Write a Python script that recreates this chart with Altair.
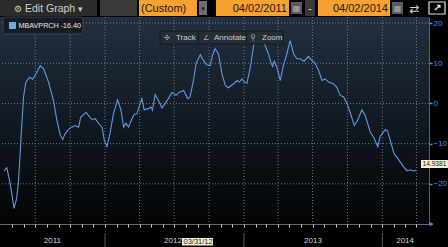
import altair as alt
import pandas as pd

# ---- data ----
start_date = "2011-04-02"
days_from_start = [8, 15, 22, 28, 34, 41, 46, 52, 59, 65, 75, 83, 92, 103, 112, 125, 138, 147, 156, 162,
                   169, 177, 186, 195, 204, 210, 224, 230, 239, 248, 257, 266, 272, 279, 287, 296, 307, 316, 323, 329,
                   336, 343, 351, 358, 365, 371, 377, 388, 395, 399, 406, 415, 424, 432, 441, 450, 461, 470, 481, 492,
                   498, 507, 514, 525, 533, 542, 551, 557, 564, 573, 582, 591, 599, 613, 622, 628, 635, 641, 648, 657,
                   665, 674, 681, 687, 696, 705, 711, 716, 720, 727, 736, 743, 752, 762, 771, 780, 788, 799, 810, 819,
                   828, 837, 846, 854, 863, 876, 885, 894, 903, 912, 920, 931, 940, 951, 960, 973, 982, 993, 999, 1013,
                   1019, 1030, 1036, 1048, 1061, 1070, 1079, 1087, 1094]
values = [-16.8, -16.0, -19.1, -22.4, -26.1, -23.6, -19.1, -9.2, 1.6, 5.3, 6.5, 6.0, 7.4, 9.4, 8.6, 5.3, 0.7, -4.2, -7.9, -9.0,
          -7.5, -6.5, -5.9, -5.5, -5.9, -3.4, -2.2, -3.0, -4.0, -3.8, -5.0, -5.9, -9.2, -10.7, -7.5, -2.6, 0.9, -1.7, -5.9, -4.9,
          -5.9, -4.2, -2.7, -2.6, -0.5, 1.2, -1.6, -1.3, -0.9, -1.7, 2.2, 0.7, -1.1, -0.1, 1.2, 2.7, 2.0, 2.8, 3.2, 1.2,
          1.6, 5.7, 9.9, 12.1, 10.7, 9.6, 9.4, 11.9, 13.6, 12.3, 7.4, 4.5, 3.9, 4.9, 5.7, 5.3, 6.1, 5.3, 5.0, 9.0,
          14.0, 16.9, 17.3, 16.5, 14.4, 12.3, 10.2, 9.2, 10.5, 9.0, 5.7, 9.0, 11.9, 15.6, 12.3, 11.1, 11.1, 10.5, 11.7, 10.7,
          10.0, 8.2, 5.7, 6.1, 5.3, 4.9, 4.0, 2.0, 1.6, -0.1, -2.2, -5.5, -4.2, -1.6, -3.0, -7.1, -8.4, -10.8, -8.2, -6.5,
          -6.9, -10.6, -12.5, -14.0, -15.8, -16.8, -16.5, -16.8, -16.7]

x_domain = ["2011-03-30", "2014-05-04"]
y_domain = [-30, 21.5]
y_ticks = [-30, -20, -10, 0, 10, 20]
y_grid = [-20, -10, 0, 10, 20]
quarter_lines = ["2011-07-01", "2011-10-01", "2012-01-01", "2012-04-01", "2012-07-01", "2012-10-01",
                 "2013-01-01", "2013-04-01", "2013-07-01", "2013-10-01", "2014-01-01", "2014-04-01"]
year_breaks = ["2012-01-01", "2013-01-01", "2014-01-01"]
year_labels = ["2011", "2012", "2013", "2014"]
year_label_dates = ["2011-08-15", "2012-06-28", "2013-07-02", "2014-03-02"]
legend_text = "MBAVPRCH -16.40"
last_value_label = "14.9381"
cursor_date_label = "03/31/12"
start_label = "04/02/2011"
end_label = "04/02/2014"

# ---- frames ----
dates = pd.to_datetime(start_date) + pd.to_timedelta(days_from_start, unit="D")
df = pd.DataFrame({"date": dates, "value": values})
grid_y = pd.DataFrame({"value": y_grid})
grid_x = pd.DataFrame({"date": pd.to_datetime(quarter_lines)})
ybreak = pd.DataFrame({"date": pd.to_datetime(year_breaks)})
ylab = pd.DataFrame({"date": pd.to_datetime(year_label_dates), "t": year_labels})
one = pd.DataFrame({"a": [0]})

W, H, TOP = 429, 207, 17
FONT = "Liberation Sans"

xs = alt.Scale(domain=x_domain)
ys = alt.Scale(domain=y_domain, nice=False, zero=False)

months = pd.date_range("2011-05-01", "2014-04-01", freq="MS")
month_vals = [alt.DateTime(year=int(m.year), month=int(m.month), date=1) for m in months]

x_axis = alt.Axis(orient="bottom", values=month_vals, labels=False, grid=False, title=None,
                  domainColor="#c8d0d8", domainDash=[1, 1], domainWidth=1,
                  tickColor="#c8d0d8", tickSize=3, tickWidth=1)
y_axis = alt.Axis(orient="right", values=y_ticks, grid=False, title=None,
                  labelExpr="datum.value == -30 ? '' : datum.label",
                  labelColor="#4a90e2", labelFont=FONT, labelFontSize=8, labelPadding=1,
                  domainColor="#2f6aa8", domainWidth=1,
                  tickColor="#4a90e2", tickSize=3, tickWidth=1.5)

X = alt.X("date:T", scale=xs, axis=x_axis, title=None)
Y = alt.Y("value:Q", scale=ys, axis=y_axis, title=None)


def box(x1, x2, y1, y2, fill, stroke=None, sw=1, r=0):
    kw = dict(fill=fill, cornerRadius=r)
    if stroke:
        kw.update(stroke=stroke, strokeWidth=sw)
    return alt.Chart(one).mark_rect(**kw).encode(
        x=alt.value(x1), x2=alt.value(x2), y=alt.value(y1 - TOP), y2=alt.value(y2 - TOP))


def label(x, y, txt, color, size, align="left", font=FONT, weight="normal"):
    return alt.Chart(one).mark_text(text=txt, color=color, fontSize=size, align=align,
                                    baseline="middle", font=font, fontWeight=weight).encode(
        x=alt.value(x), y=alt.value(y - TOP))


bg = alt.Chart(one).mark_rect(
    fill=alt.Gradient(gradient="linear", x1=0, x2=0, y1=0, y2=1,
                      stops=[alt.GradientStop(offset=0, color="#223040"),
                             alt.GradientStop(offset=0.5, color="#111922"),
                             alt.GradientStop(offset=1, color="#030405")])
).encode(x=alt.value(0), x2=alt.value(W), y=alt.value(0), y2=alt.value(H))

hgrid = alt.Chart(grid_y).mark_rule(color="#8a9098", strokeDash=[1, 2], strokeWidth=1, opacity=0.8).encode(y=Y)
vgrid = alt.Chart(grid_x).mark_rule(color="#8a9098", strokeDash=[1, 2], strokeWidth=1, opacity=0.8).encode(x=X)

line = alt.Chart(df).mark_line(color="#5a9be2", strokeWidth=1.1, interpolate="linear").encode(x=X, y=Y)

ysep = alt.Chart(ybreak).mark_rule(color="#5a5a5a", strokeWidth=1).encode(
    x=X, y=alt.value(H + 9), y2=alt.value(H + 23))
ytext = alt.Chart(ylab).mark_text(color="#d8d8d8", fontSize=8, font=FONT, baseline="middle").encode(
    x=X, y=alt.value(H + 17), text="t:N")

layers = [bg, hgrid, vgrid, line, ysep, ytext,
          label(429.5, 224, "▸", "#4a90e2", 8, font="DejaVu Sans"),
          # toolbar
          box(0, 97, 0, 16, "#2b2b2b"),
          label(14, 8.5, "⚙", "#c8c8c8", 9, font="DejaVu Sans"),
          label(25, 8.5, "Edit Graph", "#d0d0d0", 10.5),
          label(78, 8.5, "▾", "#c8c8c8", 9, font="DejaVu Sans"),
          box(100, 137, 0, 16, "#3a3a3a"),
          box(139, 197, 0, 16, "#f7a132"),
          label(141, 8.5, "(Custom)", "#1a1a1a", 11),
          box(199, 207, 1, 15, "#6e6e6e"),
          label(203, 8.5, "▾", "#1a1a1a", 7, align="center", font="DejaVu Sans"),
          box(216, 289, 0, 16, "#f7a132"),
          label(287, 8.5, start_label, "#1a1a1a", 11, align="right"),
          box(291, 302, 2, 14, "#5a5a5a"),
          label(296.5, 8.5, "▦", "#b0b0b0", 8, align="center", font="DejaVu Sans"),
          box(305, 315, 0, 16, "#3a3a3a"),
          label(310, 8.5, "-", "#e0e0e0", 10, align="center"),
          box(318, 390, 0, 16, "#f7a132"),
          label(388, 8.5, end_label, "#1a1a1a", 11, align="right"),
          box(392, 403, 2, 14, "#5a5a5a"),
          label(397.5, 8.5, "▦", "#b0b0b0", 8, align="center", font="DejaVu Sans"),
          label(414.5, 8.5, "⇄", "#d0d0d0", 12, align="center", font="DejaVu Sans"),
          box(429, 445, 2, 14, "#000000", stroke="#e0e0e0", sw=1.2),
          label(437.5, 8, "↗", "#ffffff", 10, align="center", font="DejaVu Sans", weight="bold"),
          # legend
          box(3, 83, 17, 34, "#151c24", stroke="#3a434d", r=2),
          box(9, 16, 22, 29, "#6fa8ea"),
          label(18.5, 25.8, legend_text, "#e8e8e8", 7.2),
          # track / annotate / zoom
          box(160, 283, 31, 44, "#272d35", stroke="#15191d"),
          box(198, 199, 32, 43, "#15191d"),
          box(246, 247, 32, 43, "#15191d"),
          label(164, 37.8, "✣", "#a8aeb4", 7, font="DejaVu Sans"),
          label(176, 37.8, "Track", "#c8ccd2", 8),
          label(203, 37.8, "∠", "#a8aeb4", 7, font="DejaVu Sans"),
          label(214, 37.8, "Annotate", "#c8ccd2", 8),
          label(250, 37.8, "⚲", "#a8aeb4", 8, font="DejaVu Sans"),
          label(262, 37.8, "Zoom", "#c8ccd2", 8),
          # last value and cursor date labels
          box(421, 448, 160, 168, "#f4f1cc"),
          label(422.5, 164.2, last_value_label, "#1a1a1a", 6.6),
          box(182, 213, 238, 245.5, "#f2edc4"),
          label(183.5, 241.8, cursor_date_label, "#1a2a40", 7.5),
          ]

chart = alt.layer(*layers).properties(
    width=W, height=H,
    autosize=alt.AutoSizeParams(type="none"),
    padding={"left": 0, "top": TOP, "right": 19, "bottom": 23},
    background="#000000",
).configure_view(strokeWidth=0)

chart.save("out.html", embed_options={"renderer": "svg", "actions": False})
